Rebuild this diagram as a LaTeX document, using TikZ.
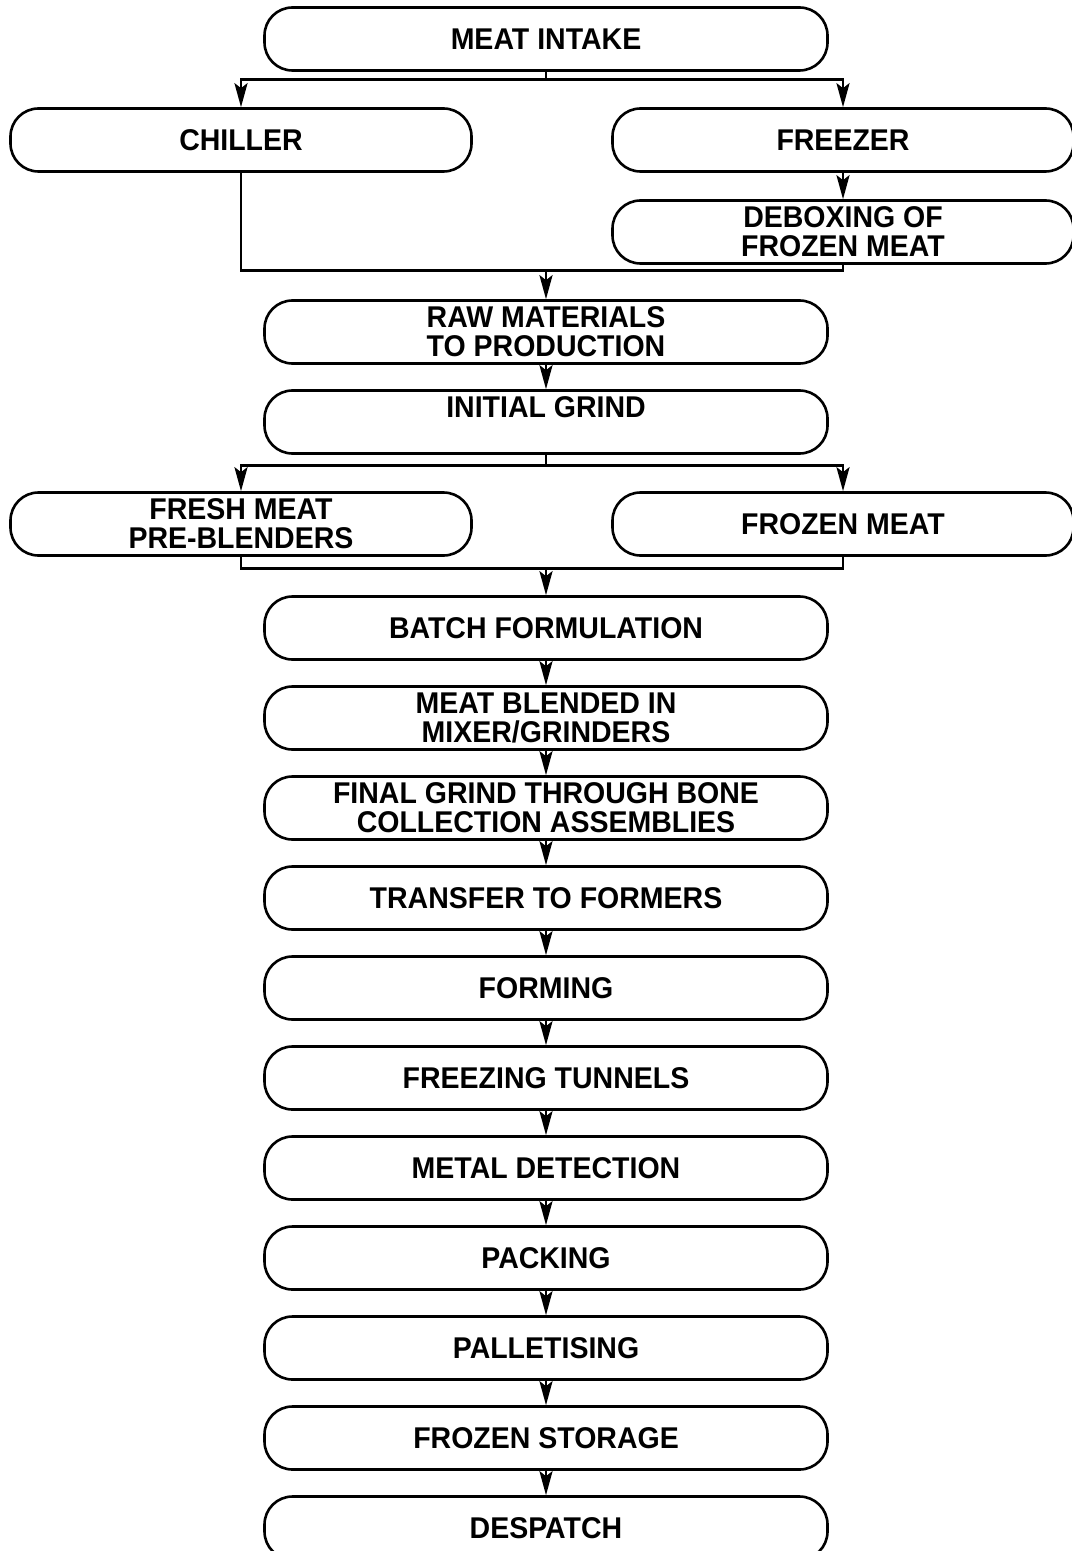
\documentclass[tikz,border=0pt]{standalone}
\usepackage{fontspec}
\setmainfont{Liberation Sans}[FakeStretch=0.95]
\usetikzlibrary{arrows.meta,calc}

\begin{document}
\begin{tikzpicture}[
  x=0.5pt,y=-0.5pt,
  >={Stealth[length=12pt,width=6.5pt,inset=2.5pt]},
  %% Main column steps: wide rounded boxes
  stepnode/.style={draw,line width=1.3pt,rectangle,rounded corners=14pt,
                   minimum width=281.5pt,minimum height=31.5pt,inner sep=0pt,
                   align=center,font=\fontsize{15}{14.5}\selectfont\bfseries},
  %% Side branches: narrower boxes
  sidenode/.style={stepnode,minimum width=230.5pt},
  %% Connectors
  flowline/.style={line width=1.4pt},
  flowarrow/.style={->,line width=1.4pt}
]
\useasboundingbox (0,0) rectangle (1071,1551);

%% ---- INTAKE AND STORAGE ----
\node[stepnode] (intake)  at (546,  39) {MEAT INTAKE};
\node[sidenode] (chiller) at (241, 140) {CHILLER};
\node[sidenode] (freezer) at (843, 140) {FREEZER};
\node[sidenode] (debox)   at (843, 232) {DEBOXING OF\\FROZEN MEAT};

%% ---- PREPARATION ----
\node[stepnode] (raw)    at (546, 332) {RAW MATERIALS\\TO PRODUCTION};
\node[stepnode] (grind)  at (546, 422) {INITIAL GRIND\\\mbox{}};
\node[sidenode] (fresh)  at (241, 524) {FRESH MEAT\\PRE-BLENDERS};
\node[sidenode] (frozen) at (843, 524) {FROZEN MEAT};

%% ---- PRODUCTION LINE ----
\node[stepnode] (batch)    at (546, 628) {BATCH FORMULATION};
\node[stepnode] (blend)    at (546, 718) {MEAT BLENDED IN\\MIXER/GRINDERS};
\node[stepnode] (final)    at (546, 808) {FINAL GRIND THROUGH BONE\\COLLECTION ASSEMBLIES};
\node[stepnode] (transfer) at (546, 898) {TRANSFER TO FORMERS};
\node[stepnode] (forming)  at (546, 988) {FORMING};
\node[stepnode] (tunnels)  at (546,1078) {FREEZING TUNNELS};
\node[stepnode] (metal)    at (546,1168) {METAL DETECTION};
\node[stepnode] (packing)  at (546,1258) {PACKING};
\node[stepnode] (pallet)   at (546,1348) {PALLETISING};
\node[stepnode] (storage)  at (546,1438) {FROZEN STORAGE};
\node[stepnode] (despatch) at (546,1528) {DESPATCH};

%% ---- SPLIT AFTER INTAKE ----
\draw[flowline] (intake.south) -- ++(0,8) coordinate (splitA);
\draw[flowarrow] (splitA) -| (chiller.north);
\draw[flowarrow] (splitA) -| (freezer.north);

%% ---- MERGE INTO PRODUCTION ----
\draw[flowline] (chiller.south) -- ++(0,98) coordinate (mergeA) -| (debox.south);
\draw[flowarrow] (mergeA -| raw.north) -- (raw.north);

%% ---- SPLIT AFTER INITIAL GRIND ----
\draw[flowline] (grind.south) -- ++(0,11) coordinate (splitB);
\draw[flowarrow] (splitB) -| (fresh.north);
\draw[flowarrow] (splitB) -| (frozen.north);

%% ---- MERGE INTO BATCHING ----
\draw[flowline] (fresh.south) -- ++(0,12) coordinate (mergeB) -| (frozen.south);
\draw[flowarrow] (mergeB -| batch.north) -- (batch.north);

%% ---- STRAIGHT STEPS ----
\foreach \a/\b in {freezer/debox,raw/grind,batch/blend,blend/final,
                   final/transfer,transfer/forming,forming/tunnels,
                   tunnels/metal,metal/packing,packing/pallet,
                   pallet/storage,storage/despatch}
  \draw[flowarrow] (\a.south) -- (\b.north);

\end{tikzpicture}
\end{document}
